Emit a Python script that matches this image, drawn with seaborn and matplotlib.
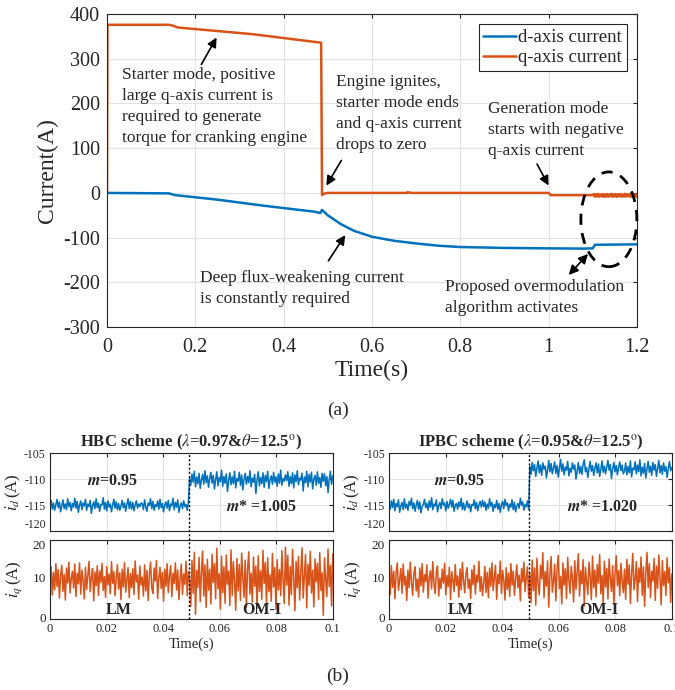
import numpy as np
import pandas as pd
import seaborn as sns
import matplotlib
matplotlib.use("Agg")
import matplotlib.pyplot as plt
from matplotlib.patches import Ellipse

# ---------------------------------------------------------------- data (a)
t_d = [0.0, 0.14, 0.155, 0.25, 0.35, 0.47, 0.483, 0.487, 0.50, 0.53, 0.56, 0.60,
       0.65, 0.70, 0.75, 0.80, 0.90, 1.00, 1.08, 1.10, 1.105, 1.15, 1.20]
d_cur = [0.0, -1.0, -5.0, -15.0, -28.0, -42.0, -45.0, -38.0, -50.0, -70.0, -85.0, -98.0,
         -107.0, -113.0, -118.0, -121.0, -123.0, -124.0, -124.5, -124.0, -116.0, -115.5, -115.0]

t_q = [0.0, 0.001, 0.14, 0.15, 0.16, 0.33, 0.485, 0.487, 0.49, 0.50, 0.68, 0.681, 0.69,
       1.00, 1.005, 1.10]
q_cur = [0.0, 376.0, 376.0, 374.0, 370.0, 355.0, 336.0, -5.0, -2.0, 0.0, 0.0, 1.5, 0.0,
         0.0, -5.0, -5.0]
# overmodulation ripple on q after 1.1 s
q_band = [-2.5, -8.5, -3.0, -8.0, -2.0, -8.5, -3.5, -7.5, -2.5, -9.0,
          -3.0, -8.0, -2.5, -8.5, -3.5, -7.5, -2.0, -8.5, -3.0, -8.0,
          -2.5, -9.0, -3.0, -7.5, -2.5, -8.5, -3.5, -8.0, -2.0, -8.5,
          -3.0, -7.5, -2.5, -8.5, -3.0, -9.0, -2.5, -8.0, -3.5, -8.5]

# ---------------------------------------------------------------- data (b)
hbc_id_lm = [
    -115.2, -114.1, -115.8, -114.6, -116.0, -114.9, -113.9, -115.5, -114.4, -116.3,
    -115.1, -114.0, -115.7, -114.8, -115.9, -113.8, -115.3, -114.5, -116.1, -114.7,
    -115.4, -113.7, -115.6, -114.3, -116.4, -115.0, -114.2, -115.9, -114.6, -115.2,
    -113.9, -116.0, -114.8, -115.3, -114.1, -116.6, -115.1, -114.4, -115.7, -113.8,
    -115.5, -114.6, -116.2, -114.9, -115.0, -113.6, -115.8, -114.5, -116.1, -114.2,
    -115.4, -114.8, -116.3, -115.0, -113.9, -115.6, -114.4, -115.9, -114.7, -116.0,
    -115.2, -114.1, -115.5, -114.6, -116.2, -114.9, -113.8, -115.7, -114.3, -115.8,
    -114.5, -116.1, -115.0, -114.2, -115.6, -114.8, -115.3, -114.6,
    -114.7, -115.9, -114.0, -115.4, -116.2, -114.6, -115.1, -113.8, -115.7, -114.3,
    -116.0, -114.9, -115.3, -114.2, -115.8, -113.9, -115.5, -114.7, -116.3, -115.0,
    -114.4, -115.6, -114.1, -116.1, -114.8, -115.2, -113.7, -115.9, -114.5, -115.4,
    -114.0, -116.4, -115.1, -114.6, -115.7, -114.2, -115.3, -114.9, -116.0, -114.5]
hbc_id_om = [
    -109.8, -111.2, -109.0, -110.6, -108.5, -111.5, -109.6, -110.9, -108.9, -111.8,
    -110.2, -109.1, -111.0, -108.4, -110.7, -109.4, -111.6, -109.9, -108.7, -110.8,
    -109.3, -111.9, -110.1, -108.6, -111.3, -109.7, -110.5, -108.3, -111.4, -109.5,
    -110.8, -109.0, -112.4, -110.3, -108.8, -111.1, -109.6, -110.9, -108.5, -111.7,
    -109.9, -110.4, -108.7, -111.2, -109.2, -112.1, -110.0, -108.9, -111.0, -109.5,
    -110.7, -108.4, -111.5, -109.8, -110.6, -109.1, -112.8, -110.2, -108.6, -111.3,
    -109.7, -110.9, -108.8, -111.6, -109.3, -110.5, -108.5, -111.8, -110.1, -109.4,
    -111.0, -108.7, -110.6, -109.6, -111.4, -109.0, -110.8, -108.3, -111.2, -109.9,
    -110.4, -109.2,
    -110.3, -108.6, -111.4, -109.5, -110.9, -108.8, -111.7, -109.2, -110.5, -108.4,
    -111.1, -109.8, -110.2, -108.9, -112.3, -109.6, -110.7, -108.5, -111.5, -109.1,
    -110.6, -108.7, -111.9, -110.0, -109.3, -111.2, -108.6, -110.8, -109.7, -111.6,
    -108.9, -110.4, -109.0, -111.3, -109.5, -112.6, -110.1, -108.5, -111.0, -109.4]

hbc_iq_lm = [
    9.5, 13.2, 6.1, 11.8, 7.4, 14.0, 8.2, 12.5, 5.3, 10.9,
    13.6, 7.0, 11.3, 4.8, 12.9, 9.1, 14.4, 6.6, 10.2, 12.1,
    7.8, 13.9, 5.7, 11.6, 8.9, 14.2, 6.3, 12.4, 9.8, 5.1,
    13.1, 7.5, 11.0, 14.6, 6.9, 10.5, 12.8, 4.6, 11.9, 8.4,
    13.5, 6.0, 12.2, 9.3, 14.1, 7.2, 10.7, 5.5, 13.3, 8.7,
    11.4, 6.4, 14.5, 9.0, 12.0, 5.9, 10.3, 13.8, 7.6, 11.7,
    4.9, 12.6, 8.1, 14.3, 6.8, 10.0, 13.0, 5.4, 11.5, 7.9,
    12.7, 6.2, 14.7, 9.4, 11.1, 5.0, 13.4, 8.6,
    10.6, 5.8, 13.7, 7.1, 12.3, 4.7, 11.2, 14.4, 8.0, 6.5,
    12.9, 9.6, 14.8, 5.2, 10.4, 13.1, 7.7, 11.8, 4.5, 12.6,
    8.3, 14.0, 6.7, 10.9, 13.5, 5.6, 11.6, 9.0, 14.2, 7.3,
    12.4, 4.9, 10.1, 13.9, 6.2, 11.4, 8.8, 14.6, 5.9, 12.0]
hbc_iq_om = [
    10.1, 3.2, 14.8, 6.5, 16.9, 1.2, 12.3, 8.0, 15.6, 4.4,
    11.9, 17.2, 5.8, 13.7, 2.9, 15.1, 7.3, 12.6, 3.8, 16.4,
    9.2, 14.0, 5.1, 17.9, 7.7, 11.4, 2.5, 15.9, 6.7, 13.2,
    4.0, 16.2, 8.8, 12.1, 3.4, 17.5, 6.0, 14.5, 9.6, 2.2,
    15.3, 7.1, 13.8, 4.7, 16.7, 10.4, 5.5, 14.9, 3.0, 12.8,
    17.0, 6.3, 11.6, 4.2, 15.7, 8.3, 13.4, 2.7, 16.0, 7.0,
    12.2, 5.0, 17.4, 9.0, 14.3, 3.6, 15.5, 6.9, 11.2, 4.5,
    16.6, 8.1, 13.0, 2.4, 15.0, 7.4, 12.5, 5.9, 17.3, 9.7,
    3.9, 18.2,
    8.6, 16.1, 3.5, 13.3, 6.2, 17.6, 10.7, 2.1, 14.6, 7.9,
    15.8, 4.8, 12.0, 18.0, 5.3, 11.1, 16.3, 2.8, 13.9, 8.5,
    17.1, 6.6, 12.4, 3.1, 15.2, 9.4, 14.1, 4.9, 16.8, 7.2,
    11.7, 0.9, 15.5, 10.0, 5.7, 17.7, 8.2, 13.6, 3.3, 16.5]

ipbc_id_lm = [
    -114.9, -115.8, -114.2, -115.5, -113.9, -116.1, -114.7, -115.3, -114.0, -116.4,
    -115.2, -114.5, -115.9, -113.8, -115.6, -114.8, -116.0, -114.3, -115.1, -113.7,
    -115.7, -114.6, -116.2, -115.0, -114.1, -115.8, -114.4, -116.5, -115.3, -114.9,
    -113.9, -115.5, -114.7, -116.0, -114.2, -115.4, -113.6, -115.9, -114.8, -115.2,
    -114.0, -116.3, -115.1, -114.5, -115.7, -113.8, -115.0, -114.6, -116.1, -114.3,
    -115.6, -114.9, -113.9, -115.4, -114.1, -116.2, -115.0, -114.7, -115.8, -114.4,
    -115.3, -113.7, -115.9, -114.6, -116.0, -115.2, -114.2, -115.5, -114.8, -116.3,
    -114.9, -115.1, -114.0, -115.7, -114.5, -116.1, -115.0, -114.3, -115.4, -114.1,
    -115.3, -114.4, -116.0, -114.8, -115.6, -113.8, -115.2, -114.5, -116.2, -114.9,
    -115.5, -114.1, -115.8, -114.7, -116.4, -115.0, -114.3, -115.7, -113.9, -115.1,
    -114.6, -116.1, -114.8, -115.4, -114.0, -115.9, -114.5, -116.3, -115.2, -114.7,
    -115.6, -113.7, -115.0, -114.4, -116.0, -114.9, -115.3, -114.2, -115.8]
ipbc_id_om = [
    -107.6, -109.1, -106.8, -108.4, -107.2, -109.5, -107.9, -106.5, -108.8, -107.3,
    -109.3, -106.9, -108.1, -107.5, -109.8, -108.2, -106.4, -108.6, -107.0, -109.0,
    -107.8, -106.7, -108.9, -107.4, -109.6, -108.0, -106.2, -108.5, -107.1, -109.2,
    -107.7, -108.3, -106.6, -109.4, -107.9, -108.7, -106.9, -108.1, -107.3, -110.0,
    -108.4, -106.8, -108.9, -107.6, -109.1, -107.2, -106.3, -108.6, -107.8, -109.7,
    -108.0, -106.6, -108.5, -107.4, -109.3, -107.9, -106.9, -108.8, -107.1, -109.5,
    -108.2, -106.5, -108.7, -107.5, -109.0, -107.7, -106.4, -108.3, -107.2, -109.9,
    -108.1, -106.8, -108.6, -107.4, -109.2, -107.8, -106.7, -108.4, -107.3, -109.0,
    -108.5, -106.9, -109.2, -107.6, -108.8, -106.5, -109.6, -107.9, -108.2, -106.7,
    -109.0, -107.3, -108.6, -106.3, -109.4, -107.7, -108.9, -107.0, -109.8, -108.1,
    -106.6, -108.7, -107.5, -109.3, -106.8, -108.3, -107.2, -109.5, -107.9, -106.4,
    -108.8, -107.4, -109.1, -106.9, -108.5, -107.6, -109.7, -108.0, -106.6, -108.4,
    -107.8]

ipbc_iq_lm = [
    10.4, 6.2, 13.5, 8.0, 12.1, 5.1, 11.7, 14.2, 7.3, 9.9,
    12.8, 6.5, 13.9, 8.6, 10.8, 4.7, 12.4, 7.9, 14.4, 9.2,
    6.0, 11.5, 13.2, 7.1, 10.1, 5.6, 12.9, 8.4, 14.0, 6.8,
    11.2, 9.5, 13.7, 5.3, 10.6, 12.2, 7.6, 14.5, 8.9, 6.4,
    11.9, 13.4, 5.8, 10.3, 7.7, 12.6, 9.1, 14.1, 6.1, 11.0,
    8.2, 13.1, 4.9, 12.0, 9.7, 6.9, 13.8, 8.5, 10.9, 5.5,
    12.7, 7.4, 14.3, 9.6, 6.6, 11.4, 13.0, 7.8, 10.0, 5.2,
    12.5, 8.7, 13.6, 6.3, 11.1, 9.3, 14.6, 7.0, 10.7, 5.9,
    9.0, 13.3, 6.7, 11.8, 5.4, 12.9, 8.3, 14.2, 7.2, 10.5,
    13.6, 5.0, 11.3, 8.9, 14.7, 6.5, 12.3, 9.8, 4.8, 13.0,
    7.5, 11.6, 5.7, 14.0, 8.6, 12.1, 6.0, 10.2, 13.7, 7.9,
    11.1, 4.6, 12.8, 9.4, 14.4, 6.9, 10.6, 13.2, 5.5]
ipbc_iq_om = [
    11.6, 4.1, 14.9, 7.2, 12.9, 3.5, 15.4, 9.0, 6.1, 13.6,
    10.2, 16.8, 5.4, 12.0, 8.3, 14.7, 3.0, 11.3, 15.8, 6.8,
    9.5, 13.9, 4.6, 12.5, 16.1, 7.7, 10.8, 3.8, 14.2, 8.6,
    12.7, 5.2, 15.6, 9.9, 6.5, 13.3, 10.5, 4.3, 14.8, 7.5,
    11.9, 16.5, 5.8, 12.2, 8.9, 15.0, 3.3, 13.1, 9.4, 6.2,
    14.4, 10.9, 4.9, 15.9, 7.9, 12.4, 5.6, 13.8, 9.1, 16.3,
    6.4, 11.0, 4.0, 14.6, 8.1, 12.8, 5.1, 15.2, 10.3, 7.0,
    13.5, 3.7, 11.8, 16.0, 8.4, 12.3, 5.9, 14.1, 9.8, 6.7,
    12.6, 5.0, 15.1, 8.8, 13.7, 3.9, 11.5, 16.6, 7.4, 10.1,
    14.5, 4.4, 12.9, 9.3, 15.7, 6.0, 13.2, 3.2, 11.7, 16.9,
    8.0, 14.0, 5.5, 12.1, 9.6, 15.3, 4.7, 13.4, 7.8, 16.2,
    10.6, 3.6, 14.8, 8.5, 12.0, 5.9, 15.5, 9.2, 13.0, 4.2,
    11.4]

BLUE = "#0072BD"
ORANGE = "#D95319"
GRID = "#e3e3e3"

################################################################################
sns.set_style("white")
plt.rcParams["font.family"] = ["Liberation Serif", "DejaVu Serif"]
plt.rcParams["mathtext.fontset"] = "stix"
plt.rcParams["axes.unicode_minus"] = False
plt.rcParams["xtick.direction"] = "in"
plt.rcParams["ytick.direction"] = "in"

fig = plt.figure(figsize=(6.75, 6.9), dpi=100)


def matlab_box(ax, fs, xpad=3, ypad=3):
    for s in ax.spines.values():
        s.set_color("#262626")
        s.set_linewidth(0.8)
    ax.tick_params(top=True, right=True, labelsize=fs, length=3, color="#262626")
    ax.tick_params(axis="x", pad=xpad)
    ax.tick_params(axis="y", pad=ypad)
    ax.grid(True, color=GRID, linewidth=0.8)
    ax.set_axisbelow(True)


# ---------------------------------------------------------------- panel (a)
ax = fig.add_axes([0.1585, 0.526, 0.785, 0.4536])
t_band = np.linspace(1.1025, 1.2, len(q_band))
sns.lineplot(x=t_d, y=d_cur, ax=ax, color=BLUE, lw=1.8, sort=False, estimator=None,
             label="d-axis current")
sns.lineplot(x=t_q + list(t_band), y=q_cur + q_band, ax=ax, color=ORANGE, lw=1.8,
             sort=False, estimator=None, label="q-axis current")
ax.set_xlim(0, 1.2)
ax.set_ylim(-300, 400)
ax.set_xticks([0, 0.2, 0.4, 0.6, 0.8, 1.0, 1.2])
ax.set_xticklabels(["0", "0.2", "0.4", "0.6", "0.8", "1", "1.2"])
ax.set_yticks(range(-300, 401, 100))
matlab_box(ax, 14.5, xpad=8, ypad=5)
ax.set_xlabel("Time(s)", fontsize=17, labelpad=2)
ax.set_ylabel("Current(A)", fontsize=17, labelpad=4)

leg = ax.legend(loc="upper right", fontsize=13.5, frameon=True, fancybox=False,
                edgecolor="#262626", framealpha=1, handlelength=1.75, handletextpad=0.1,
                borderaxespad=0.55, borderpad=0.25, labelspacing=0.15)
leg.get_frame().set_linewidth(0.8)

arrow = dict(arrowstyle="-|>", color="black", lw=1.2, mutation_scale=14)
fs_ann = 12.5
ls_ann = 1.42
ax.text(0.034, 282, "Starter mode, positive\nlarge q-axis current is\nrequired to generate\n"
        "torque for cranking engine", fontsize=fs_ann, va="top", ha="left", linespacing=ls_ann)
ax.annotate("", xy=(0.2513, 353), xytext=(0.2106, 282), arrowprops=arrow)

ax.text(0.5185, 266, "Engine ignites,\nstarter mode ends\nand q-axis current\ndrops to zero",
        fontsize=fs_ann, va="top", ha="left", linespacing=ls_ann)
ax.annotate("", xy=(0.4936, 11), xytext=(0.534, 78), arrowprops=arrow)

ax.text(0.8626, 206, "Generation mode\nstarts with negative\nq-axis current",
        fontsize=fs_ann, va="top", ha="left", linespacing=ls_ann)
ax.annotate("", xy=(1.003, 11), xytext=(0.971, 70), arrowprops=arrow)

ax.text(0.2106, -172, "Deep flux-weakening current\nis constantly required",
        fontsize=fs_ann, va="top", ha="left", linespacing=ls_ann)
ax.annotate("", xy=(0.543, -89), xytext=(0.498, -157), arrowprops=arrow)

ax.text(0.765, -192, "Proposed overmodulation\nalgorithm activates",
        fontsize=fs_ann, va="top", ha="left", linespacing=ls_ann)
ax.annotate("", xy=(1.0936, -132), xytext=(1.0415, -188),
            arrowprops=dict(arrowstyle="<|-|>", color="black", lw=1.2, mutation_scale=14))

ax.add_patch(Ellipse((1.1366, -59), 0.1268, 212, fill=False, edgecolor="black", lw=2,
                     linestyle=(0, (4, 3)), clip_on=False, zorder=5))

fig.text(0.5, 0.406, "(a)", ha="center", va="center", fontsize=14)


# ---------------------------------------------------------------- panel (b)
def small_pair(left, id_lm, id_om, iq_lm, iq_om, title, m_x, mstar, lm_x, om_x):
    id_vals = id_lm + id_om
    iq_vals = iq_lm + iq_om
    t_fast = np.linspace(0, 0.1, len(id_vals))
    t_step = 0.5 * (t_fast[len(id_lm) - 1] + t_fast[len(id_lm)])

    ax1 = fig.add_axes([left, 0.2304, 0.419, 0.113])
    ax2 = fig.add_axes([left, 0.1029, 0.419, 0.1145])
    sns.lineplot(x=t_fast, y=id_vals, ax=ax1, color=BLUE, lw=1.1, estimator=None)
    sns.lineplot(x=np.linspace(0, 0.1, len(iq_vals)), y=iq_vals, ax=ax2, color=ORANGE,
                 lw=1.1, estimator=None)
    for a in (ax1, ax2):
        a.set_xlim(0, 0.1)
        a.set_xticks([0, 0.02, 0.04, 0.06, 0.08, 0.1])
        matlab_box(a, 8.5)
    ax2.tick_params(axis="y", labelsize=9.5)
    ax1.set_xticklabels([])
    ax2.set_xticklabels(["0", "0.02", "0.04", "0.06", "0.08", "0.1"])
    ax2.tick_params(axis="x", labelsize=9)
    ax1.set_ylim(-120, -105)
    ax1.set_yticks([-120, -115, -110, -105])
    ax2.set_ylim(0, 20)
    ax2.set_yticks([0, 10, 20])
    ax2.set_yticklabels(["0", "10", "20"], va="center")
    ax2.get_yticklabels()[2].set_va("top")
    ax1.get_yticklabels()[0].set_va("bottom")
    ax1.set_ylabel(r"$i_d\,$(A)", fontsize=12, labelpad=1)
    ax2.set_ylabel(r"$i_q\,$(A)", fontsize=12, labelpad=6)
    ax2.set_xlabel("Time(s)", fontsize=10.5, labelpad=2)
    ax1.set_title(title, fontsize=12, fontweight="bold", pad=4)

    ax1.axvline(t_step, ymin=-0.12, ymax=1, color="black", lw=1.0,
                linestyle=(0, (1.5, 1.5)), clip_on=False, zorder=6)
    ax2.axvline(t_step, color="black", lw=1.0, linestyle=(0, (1.5, 1.5)), zorder=6)

    ax1.text(m_x, -110.3, r"$\mathbfit{m}$=0.95", fontsize=11.5, fontweight="bold",
             ha="center", va="center")
    ax1.text(mstar[0], -115.4, r"$\mathbfit{m}$* =" + mstar[1], fontsize=11.5,
             fontweight="bold", ha="center", va="center")
    ax2.text(lm_x, 2.3, "LM", fontsize=11.5, fontweight="bold", ha="center", va="center")
    ax2.text(om_x, 2.3, "OM-I", fontsize=11.5, fontweight="bold", ha="center", va="center")


small_pair(0.074, hbc_id_lm, hbc_id_om, hbc_iq_lm, hbc_iq_om,
           r"HBC scheme ($\lambda$=0.97&$\theta$=12.5$^{\rm o}$)",
           0.022, (0.075, "1.005"), 0.0244, 0.0749)
small_pair(0.5763, ipbc_id_lm, ipbc_id_om, ipbc_iq_lm, ipbc_iq_om,
           r"IPBC scheme ($\lambda$=0.95&$\theta$=12.5$^{\rm o}$)",
           0.025, (0.0755, "1.020"), 0.0254, 0.0742)

fig.text(0.5, 0.02, "(b)", ha="center", va="center", fontsize=14)

plt.savefig("out.png", dpi=100)
